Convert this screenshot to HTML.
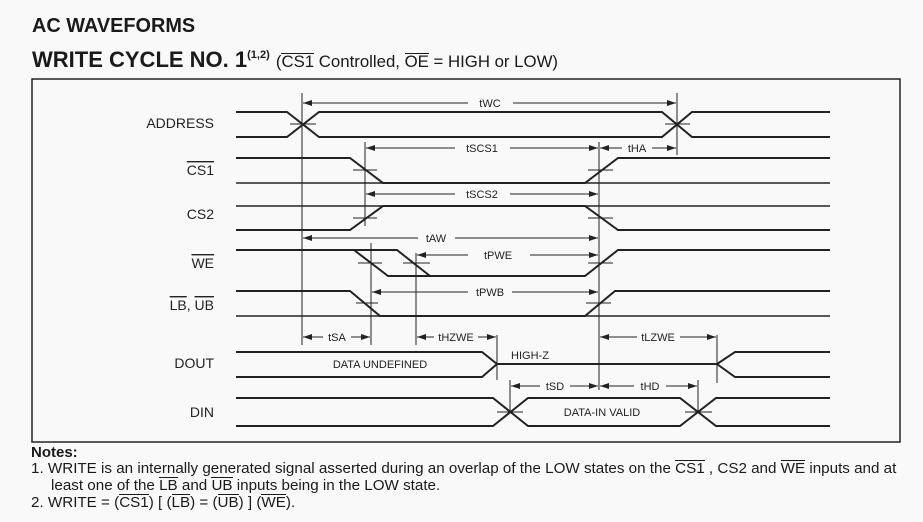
<!DOCTYPE html>
<html><head><meta charset="utf-8"><style>
html,body{margin:0;padding:0;background:#f9f9f9;}
body{position:relative;width:923px;height:522px;overflow:hidden;font-family:"Liberation Sans",sans-serif;color:#1a1a1a;}
svg{display:block;position:absolute;left:0;top:0;font-family:"Liberation Sans",sans-serif;}
svg .o{text-decoration:overline;}
.t{position:absolute;white-space:nowrap;line-height:1;}
.t .o{display:inline-block;border-top:1.2px solid #1a1a1a;line-height:1;}
sup{font-size:11px;vertical-align:0;position:relative;top:-9px;}
</style></head><body>
<svg width="923" height="522" viewBox="0 0 923 522" xmlns="http://www.w3.org/2000/svg">
<rect width="923" height="522" fill="#f9f9f9"/>
<rect x="32" y="79" width="868" height="363" fill="none" stroke="#222" stroke-width="1.5"/>

<g font-size="14" fill="#222" text-anchor="end">
<text x="214" y="128">ADDRESS</text>
<text x="214" y="175"><tspan class="o">CS1</tspan></text>
<text x="214" y="219">CS2</text>
<text x="214" y="268"><tspan class="o">WE</tspan></text>
<text x="214" y="310"><tspan class="o">LB</tspan>, <tspan class="o">UB</tspan></text>
<text x="214" y="368">DOUT</text>
<text x="214" y="417">DIN</text>
</g>

<g fill="none" stroke="#222" stroke-width="2">
<polyline points="236,112 287,112 319,137 662,137 692,112 830,112"/>
<polyline points="236,137 287,137 319,112 662,112 692,137 830,137"/>
<polyline points="236,158 350,158 383,183 585,183 618,158 830,158"/>
<line x1="236" y1="183" x2="830" y2="183" stroke-width="1.5"/>
<polyline points="236,230 350,230 383,206 585,206 618,230 830,230"/>
<line x1="236" y1="206" x2="830" y2="206" stroke-width="1.5"/>
<polyline points="236,250 397,250 430,276"/>
<polyline points="354,250 388,276 585,276 618,250 830,250"/>
<polyline points="236,291 350,291 380,316 585,316 615,291 830,291"/>
<line x1="236" y1="316" x2="830" y2="316" stroke-width="1.5"/>
<polyline points="236,352 482,352 497,364 482,377 236,377"/>
<line x1="497" y1="364" x2="717" y2="364"/>
<polyline points="830,352 735,352 717,364 735,377 830,377"/>
<polyline points="236,398 493,398 528,426 680,426 716,398 830,398"/>
<polyline points="236,426 493,426 528,398 680,398 716,426 830,426"/>
</g>

<g stroke="#222" stroke-width="1">
<line x1="302" y1="93" x2="302" y2="345"/>
<line x1="365" y1="142" x2="365" y2="226"/>
<line x1="599" y1="142" x2="599" y2="390"/>
<line x1="677" y1="93" x2="677" y2="155"/>
<line x1="371" y1="243" x2="371" y2="345"/>
<line x1="416" y1="253" x2="416" y2="345"/>
<line x1="497" y1="335" x2="497" y2="380"/>
<line x1="717" y1="335" x2="717" y2="383"/>
<line x1="510" y1="380" x2="510" y2="412"/>
<line x1="698" y1="380" x2="698" y2="412"/>
<line x1="290" y1="124" x2="316" y2="124"/>
<line x1="665" y1="124" x2="690" y2="124"/>
<line x1="353" y1="170" x2="377" y2="170"/>
<line x1="588" y1="170" x2="613" y2="170"/>
<line x1="353" y1="218" x2="377" y2="218"/>
<line x1="588" y1="218" x2="613" y2="218"/>
<line x1="358" y1="263" x2="382" y2="263"/>
<line x1="403" y1="263" x2="430" y2="263"/>
<line x1="588" y1="263" x2="613" y2="263"/>
<line x1="356" y1="303" x2="378" y2="303"/>
<line x1="586" y1="303" x2="611" y2="303"/>
<line x1="497" y1="412" x2="523" y2="412"/>
<line x1="685" y1="412" x2="712" y2="412"/>
</g>

<defs>
<marker id="a" markerWidth="9" markerHeight="6" refX="9" refY="3" orient="auto-start-reverse" markerUnits="userSpaceOnUse">
<path d="M0,0 L9,3 L0,6 z" fill="#222"/>
</marker>
</defs>
<g stroke="#222" stroke-width="1">
<line x1="303" y1="103" x2="468" y2="103" marker-start="url(#a)"/><line x1="513" y1="103" x2="676" y2="103" marker-end="url(#a)"/>
<line x1="366" y1="148" x2="455" y2="148" marker-start="url(#a)"/><line x1="510" y1="148" x2="598" y2="148" marker-end="url(#a)"/>
<line x1="600" y1="148" x2="622" y2="148" marker-start="url(#a)"/><line x1="652" y1="148" x2="676" y2="148" marker-end="url(#a)"/>
<line x1="366" y1="194" x2="455" y2="194" marker-start="url(#a)"/><line x1="510" y1="194" x2="598" y2="194" marker-end="url(#a)"/>
<line x1="303" y1="238" x2="418" y2="238" marker-start="url(#a)"/><line x1="455" y1="238" x2="598" y2="238" marker-end="url(#a)"/>
<line x1="417" y1="255" x2="468" y2="255" marker-start="url(#a)"/><line x1="530" y1="255" x2="598" y2="255" marker-end="url(#a)"/>
<line x1="372" y1="292" x2="468" y2="292" marker-start="url(#a)"/><line x1="512" y1="292" x2="598" y2="292" marker-end="url(#a)"/>
<line x1="303" y1="337" x2="323" y2="337" marker-start="url(#a)"/><line x1="351" y1="337" x2="370" y2="337" marker-end="url(#a)"/>
<line x1="417" y1="337" x2="434" y2="337" marker-start="url(#a)"/><line x1="478" y1="337" x2="496" y2="337" marker-end="url(#a)"/>
<line x1="600" y1="337" x2="637" y2="337" marker-start="url(#a)"/><line x1="680" y1="337" x2="716" y2="337" marker-end="url(#a)"/>
<line x1="511" y1="386" x2="540" y2="386" marker-start="url(#a)"/><line x1="570" y1="386" x2="598" y2="386" marker-end="url(#a)"/>
<line x1="600" y1="386" x2="634" y2="386" marker-start="url(#a)"/><line x1="666" y1="386" x2="697" y2="386" marker-end="url(#a)"/>
</g>
<g font-size="11" fill="#222" text-anchor="middle">
<text x="490" y="107">tWC</text>
<text x="482" y="152">tSCS1</text>
<text x="637" y="152">tHA</text>
<text x="482" y="198">tSCS2</text>
<text x="436" y="242">tAW</text>
<text x="498" y="259">tPWE</text>
<text x="490" y="296">tPWB</text>
<text x="337" y="341">tSA</text>
<text x="456" y="341">tHZWE</text>
<text x="658" y="341">tLZWE</text>
<text x="555" y="390">tSD</text>
<text x="650" y="390">tHD</text>
<text x="380" y="368">DATA UNDEFINED</text>
<text x="530" y="359">HIGH-Z</text>
<text x="602" y="416">DATA-IN VALID</text>
</g>
</svg>

<div class="t" style="left:32px;top:17px;font-size:19.9px;font-weight:bold;">AC WAVEFORMS</div>
<div class="t" style="left:32px;top:49px;font-size:22px;"><b>WRITE CYCLE NO. 1<sup>(1,2)</sup></b> <span style="font-size:16.8px;">(<span class="o">CS1</span> Controlled, <span class="o">OE</span> = HIGH or LOW)</span></div>
<div class="t" style="left:31px;top:445px;font-size:15px;font-weight:bold;">Notes:</div>
<div class="t" style="left:31px;top:460px;font-size:15.2px;">1. WRITE is an internally generated signal asserted during an overlap of the LOW states on the <span class="o">CS1</span> , CS2 and <span class="o">WE</span> inputs and at</div>
<div class="t" style="left:51px;top:477px;font-size:15.2px;">least one of the <span class="o">LB</span> and <span class="o">UB</span> inputs being in the LOW state.</div>
<div class="t" style="left:31px;top:494px;font-size:15.2px;">2. WRITE = (<span class="o">CS1</span>) [ (<span class="o">LB</span>) = (<span class="o">UB</span>) ] (<span class="o">WE</span>).</div>
</body></html>
